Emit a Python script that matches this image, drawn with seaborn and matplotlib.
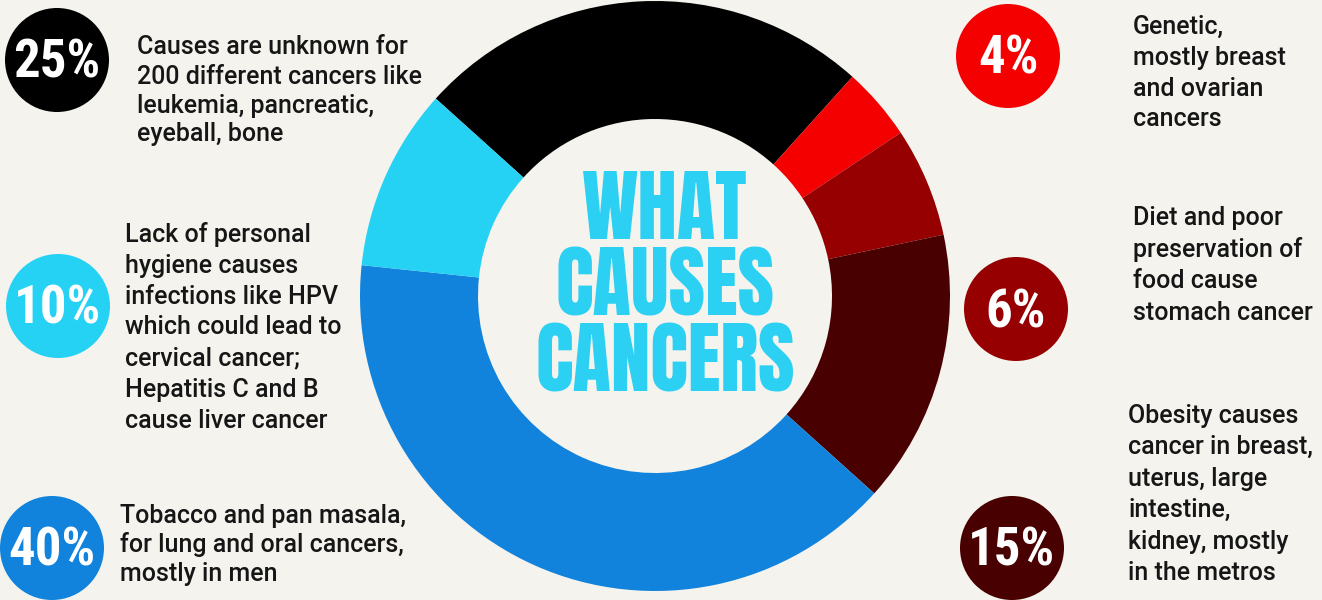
import matplotlib
matplotlib.use("Agg")
import matplotlib.pyplot as plt
from matplotlib.patches import Circle
import seaborn as sns

# ---- data -------------------------------------------------------------
causes = ["Unknown", "Genetic", "Diet", "Obesity", "Tobacco", "Hygiene"]
shares = [25, 4, 6, 15, 40, 10]
share_labels = ["25%", "4%", "6%", "15%", "40%", "10%"]
descriptions = [
    ["Causes are unknown for", "200 different cancers like",
     "leukemia, pancreatic,", "eyeball, bone"],
    ["Genetic,", "mostly breast", "and ovarian", "cancers"],
    ["Diet and poor", "preservation of", "food cause", "stomach cancer"],
    ["Obesity causes", "cancer in breast,", "uterus, large", "intestine,",
     "kidney, mostly", "in the metros"],
    ["Tobacco and pan masala,", "for lung and oral cancers,", "mostly in men"],
    ["Lack of personal", "hygiene causes", "infections like HPV",
     "which could lead to", "cervical cancer;", "Hepatitis C and B",
     "cause liver cancer"],
]
title_lines = ["WHAT", "CAUSES", "CANCERS"]

# ---- style ------------------------------------------------------------
sns.set_theme(style="white")
palette = sns.color_palette(["#000000", "#f40000", "#960000",
                             "#480000", "#1283dc", "#26d2f4"])
bg = "#f4f3ee"
text_col = "#161616"
body_font = ["Roboto", "DejaVu Sans"]
badge_font = ["Roboto Condensed", "DejaVu Sans"]
title_font = ["Anton", "DejaVu Sans"]

W, H = 1322, 600
fig = plt.figure(figsize=(W / 100, H / 100), dpi=100, facecolor=bg)
ax = fig.add_axes([0, 0, 1, 1])
ax.set_aspect("equal")
ax.axis("off")

# ---- donut ------------------------------------------------------------
ax.pie(shares, colors=palette, startangle=138, counterclock=False,
       center=(655, H - 296), radius=295,
       wedgeprops=dict(width=118, linewidth=0))
ax.set_xlim(0, W)
ax.set_ylim(0, H)

for i, line in enumerate(title_lines):
    ax.text(665, H - (205 + 76 * i), line, ha="center", va="center_baseline",
            color="#2bd0f2", fontsize=57, family=title_font)

# ---- badges and descriptions -------------------------------------------
badge_xy = [(57, 60), (1008, 56), (1016, 309), (1012, 548),
            (52, 548), (58, 306)]
text_xy = [(137, 45), (1133, 24), (1133, 215), (1128, 413),
           (120, 513), (125, 232)]
spacing = [29, 31, 32, 31.6, 29, 31]

for i in range(len(shares)):
    bx, by = badge_xy[i]
    ax.add_patch(Circle((bx, H - by), 52, color=palette[i], lw=0))
    ax.text(bx, H - by + 2, share_labels[i], ha="center",
            va="center_baseline", color="white", fontsize=38,
            fontweight="bold", family=badge_font)
    tx, ty = text_xy[i]
    for j, line in enumerate(descriptions[i]):
        ax.text(tx, H - (ty + spacing[i] * j), line, ha="left",
                va="center_baseline", color=text_col, fontsize=18,
                fontweight="medium", family=body_font)

fig.savefig("out.png", dpi=100, facecolor=bg)
